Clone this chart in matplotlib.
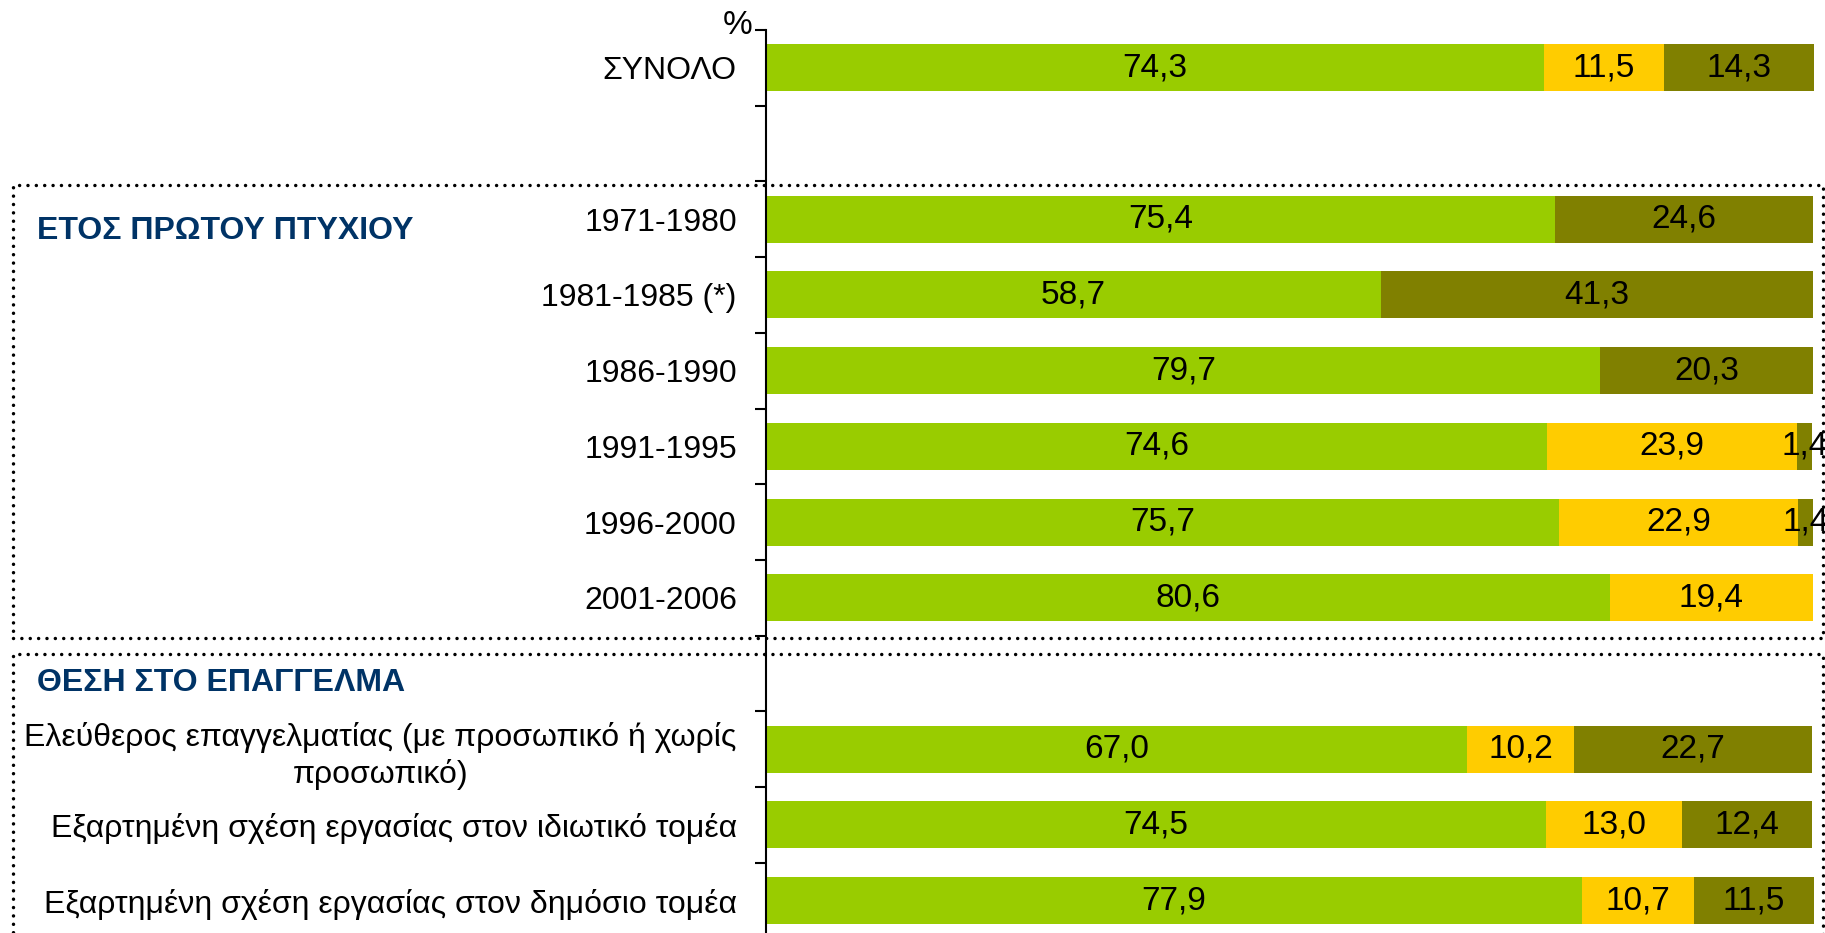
import matplotlib
matplotlib.use("Agg")
import matplotlib.pyplot as plt
from matplotlib.patches import Rectangle
import numpy as np

plt.rcParams['font.family'] = ['Liberation Sans', 'DejaVu Sans']

categories = [
    "ΣΥΝΟΛΟ",
    "",
    "1971-1980",
    "1981-1985 (*)",
    "1986-1990",
    "1991-1995",
    "1996-2000",
    "2001-2006",
    "",
    "Ελεύθερος επαγγελματίας (με προσωπικό ή χωρίς\nπροσωπικό)",
    "Εξαρτημένη σχέση εργασίας στον ιδιωτικό τομέα",
    "Εξαρτημένη σχέση εργασίας στον δημόσιο τομέα",
]
series_green = [74.3, np.nan, 75.4, 58.7, 79.7, 74.6, 75.7, 80.6, np.nan, 67.0, 74.5, 77.9]
series_yellow = [11.5, np.nan, 0.0, 0.0, 0.0, 23.9, 22.9, 19.4, np.nan, 10.2, 13.0, 10.7]
series_olive = [14.3, np.nan, 24.6, 41.3, 20.3, 1.4, 1.4, 0.0, np.nan, 22.7, 12.4, 11.5]
colors = ["#99CC00", "#FFCC00", "#808000"]
headings = ["ΕΤΟΣ ΠΡΩΤΟΥ ΠΤΥΧΙΟΥ", "ΘΕΣΗ ΣΤΟ ΕΠΑΓΓΕΛΜΑ"]

W, H = 1825, 933
fig = plt.figure(figsize=(W / 100, H / 100), dpi=100)

n = len(categories)
top_px, step_px = 30, 75.7
bot_px = top_px + n * step_px
x0_px, x100_px = 766, 1813
ax = fig.add_axes([x0_px / W, (H - bot_px) / H, (x100_px - x0_px) / W, (bot_px - top_px) / H])

y = np.arange(n)
left = np.zeros(n)
fs = 23
fs_val = 24
for vals, c in zip([series_green, series_yellow, series_olive], colors):
    v = np.array(vals, dtype=float)
    vv = np.nan_to_num(v)
    ax.barh(y, vv, left=left, height=0.62, color=c, clip_on=False, zorder=2)
    for i in range(n):
        if not np.isnan(v[i]) and v[i] > 0:
            ax.text(left[i] + vv[i] / 2, y[i], f"{v[i]:.1f}".replace(".", ","),
                    ha="center", va="center", fontsize=fs_val, color="black",
                    clip_on=False, zorder=3)
    left = left + vv

ax.set_xlim(0, 100)
ax.set_ylim(n - 0.5, -0.5)
for s in ["top", "right", "bottom"]:
    ax.spines[s].set_visible(False)
ax.spines["left"].set_linewidth(1.5)
ax.xaxis.set_visible(False)

ax.set_yticks(np.arange(-0.5, n, 1.0))
ax.set_yticklabels([])
ax.tick_params(axis="y", which="major", length=8, width=1.5, direction="out")
ax.set_yticks(y, minor=True)
ax.set_yticklabels(categories, minor=True, fontsize=fs)
ax.tick_params(axis="y", which="minor", length=0, pad=21)
for lab in ax.get_yticklabels(minor=True):
    lab.set_multialignment("center")
    lab.set_linespacing(1.25)

fig.text(753 / W, 1 - 26 / H, "%", ha="right", va="center", fontsize=24)

heading_color = "#003366"
fig.text(37 / W, 1 - 231 / H, headings[0], ha="left", va="center", fontsize=fs,
         fontweight="bold", color=heading_color)
fig.text(37 / W, 1 - 683 / H, headings[1], ha="left", va="center", fontsize=fs,
         fontweight="bold", color=heading_color)

dot = (0, (0.01, 2.4))
box_kw = dict(fill=False, edgecolor="black", linewidth=2.5, linestyle=dot,
              capstyle="round", transform=fig.transFigure, clip_on=False, zorder=1)
fig.add_artist(Rectangle((13 / W, 1 - 638 / H), (1823 - 13) / W, (638 - 185) / H, **box_kw))
fig.add_artist(Rectangle((13 / W, 1 - 990 / H), (1823 - 13) / W, (990 - 654) / H, **box_kw))

fig.savefig("out.png", dpi=100)
